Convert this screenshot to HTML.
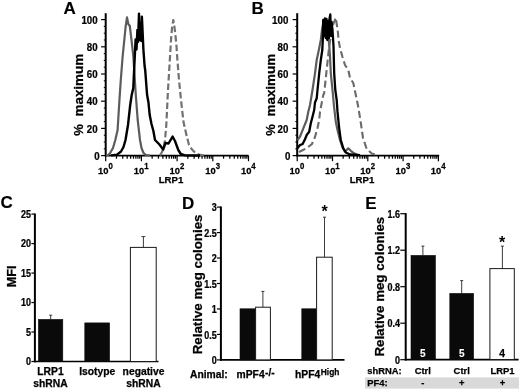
<!DOCTYPE html>
<html><head><meta charset="utf-8"><title>Figure</title>
<style>
html,body{margin:0;padding:0;background:#fff;}
body{width:520px;height:390px;overflow:hidden;}
svg{display:block;filter:blur(0.4px);}
text{font-family:"Liberation Sans",sans-serif;font-weight:bold;fill:#000;stroke:#000;stroke-width:0.25px;}
.pl{font-size:17px;stroke-width:0.15px;}
.tk{font-size:10.8px;}
.tc{font-size:10px;}
.td{font-size:10px;}
.te{font-size:10px;}
.xc{font-size:10.3px;}
.xe{font-size:9.4px;}
.xl{font-size:9px;}
.xt{font-size:9.9px;}
.sp{font-size:8.2px;}
.sup{font-size:8px;}
.yl{font-size:13px;}
.yl2{font-size:12.7px;}
.ax{stroke:#000;stroke-width:1.7;fill:none;}
.ay{stroke:#000;stroke-width:2;fill:none;}
.t{stroke:#000;stroke-width:1.2;fill:none;}
.tm{stroke:#000;stroke-width:1;fill:none;}
.eb{stroke:#1a1a1a;stroke-width:0.85;fill:none;}
.wb{fill:#fff;stroke:#1a1a1a;stroke-width:1;}
.bb{fill:#0a0a0a;stroke:#0a0a0a;stroke-width:0.6;}
</style></head><body>
<svg width="520" height="390" viewBox="0 0 520 390">
<rect x="0" y="0" width="520" height="390" fill="#fff"/>

<text class="pl" x="63.6" y="13.8">A</text>
<line class="ay" x1="105.7" y1="13.2" x2="105.7" y2="156.4"/>
<line class="ax" x1="104.9" y1="155.6" x2="248.5" y2="155.6"/>
<line class="t" x1="101.10000000000001" y1="155.60" x2="105.7" y2="155.60"/>
<text class="tk" transform="translate(99.6,160.00) scale(0.9,1)" text-anchor="end">0</text>
<line class="tm" x1="103.8" y1="148.80" x2="105.7" y2="148.80"/>
<line class="tm" x1="103.8" y1="142.00" x2="105.7" y2="142.00"/>
<line class="tm" x1="103.8" y1="135.20" x2="105.7" y2="135.20"/>
<line class="t" x1="101.10000000000001" y1="128.40" x2="105.7" y2="128.40"/>
<text class="tk" transform="translate(97.6,132.50) scale(0.9,1)" text-anchor="end">20</text>
<line class="tm" x1="103.8" y1="121.60" x2="105.7" y2="121.60"/>
<line class="tm" x1="103.8" y1="114.80" x2="105.7" y2="114.80"/>
<line class="tm" x1="103.8" y1="108.00" x2="105.7" y2="108.00"/>
<line class="t" x1="101.10000000000001" y1="101.20" x2="105.7" y2="101.20"/>
<text class="tk" transform="translate(97.6,105.30) scale(0.9,1)" text-anchor="end">40</text>
<line class="tm" x1="103.8" y1="94.40" x2="105.7" y2="94.40"/>
<line class="tm" x1="103.8" y1="87.60" x2="105.7" y2="87.60"/>
<line class="tm" x1="103.8" y1="80.80" x2="105.7" y2="80.80"/>
<line class="t" x1="101.10000000000001" y1="74.00" x2="105.7" y2="74.00"/>
<text class="tk" transform="translate(97.6,78.10) scale(0.9,1)" text-anchor="end">60</text>
<line class="tm" x1="103.8" y1="67.20" x2="105.7" y2="67.20"/>
<line class="tm" x1="103.8" y1="60.40" x2="105.7" y2="60.40"/>
<line class="tm" x1="103.8" y1="53.60" x2="105.7" y2="53.60"/>
<line class="t" x1="101.10000000000001" y1="46.80" x2="105.7" y2="46.80"/>
<text class="tk" transform="translate(97.6,50.90) scale(0.9,1)" text-anchor="end">80</text>
<line class="tm" x1="103.8" y1="40.00" x2="105.7" y2="40.00"/>
<line class="tm" x1="103.8" y1="33.20" x2="105.7" y2="33.20"/>
<line class="tm" x1="103.8" y1="26.40" x2="105.7" y2="26.40"/>
<line class="t" x1="101.10000000000001" y1="19.60" x2="105.7" y2="19.60"/>
<text class="tk" transform="translate(97.6,23.70) scale(0.9,1)" text-anchor="end">100</text>
<line class="t" x1="105.70" y1="155.6" x2="105.70" y2="161.2"/>
<text class="xt" transform="translate(105.50,173.60) scale(0.95,1)" text-anchor="middle">10<tspan class="sp" dy="-4.6">0</tspan></text>
<line class="tm" style="stroke-width:1.25" x1="116.45" y1="155.6" x2="116.45" y2="158.7"/>
<line class="tm" style="stroke-width:1.25" x1="122.73" y1="155.6" x2="122.73" y2="158.7"/>
<line class="tm" style="stroke-width:1.25" x1="127.19" y1="155.6" x2="127.19" y2="158.7"/>
<line class="tm" style="stroke-width:1.25" x1="130.65" y1="155.6" x2="130.65" y2="158.7"/>
<line class="tm" style="stroke-width:1.25" x1="133.48" y1="155.6" x2="133.48" y2="158.7"/>
<line class="tm" style="stroke-width:1.25" x1="135.87" y1="155.6" x2="135.87" y2="158.7"/>
<line class="tm" style="stroke-width:1.25" x1="137.94" y1="155.6" x2="137.94" y2="158.7"/>
<line class="tm" style="stroke-width:1.25" x1="139.77" y1="155.6" x2="139.77" y2="158.7"/>
<line class="t" x1="141.40" y1="155.6" x2="141.40" y2="161.2"/>
<text class="xt" transform="translate(141.20,173.60) scale(0.95,1)" text-anchor="middle">10<tspan class="sp" dy="-4.6">1</tspan></text>
<line class="tm" style="stroke-width:1.25" x1="152.15" y1="155.6" x2="152.15" y2="158.7"/>
<line class="tm" style="stroke-width:1.25" x1="158.43" y1="155.6" x2="158.43" y2="158.7"/>
<line class="tm" style="stroke-width:1.25" x1="162.89" y1="155.6" x2="162.89" y2="158.7"/>
<line class="tm" style="stroke-width:1.25" x1="166.35" y1="155.6" x2="166.35" y2="158.7"/>
<line class="tm" style="stroke-width:1.25" x1="169.18" y1="155.6" x2="169.18" y2="158.7"/>
<line class="tm" style="stroke-width:1.25" x1="171.57" y1="155.6" x2="171.57" y2="158.7"/>
<line class="tm" style="stroke-width:1.25" x1="173.64" y1="155.6" x2="173.64" y2="158.7"/>
<line class="tm" style="stroke-width:1.25" x1="175.47" y1="155.6" x2="175.47" y2="158.7"/>
<line class="t" x1="177.10" y1="155.6" x2="177.10" y2="161.2"/>
<text class="xt" transform="translate(176.90,173.60) scale(0.95,1)" text-anchor="middle">10<tspan class="sp" dy="-4.6">2</tspan></text>
<line class="tm" style="stroke-width:1.25" x1="187.85" y1="155.6" x2="187.85" y2="158.7"/>
<line class="tm" style="stroke-width:1.25" x1="194.13" y1="155.6" x2="194.13" y2="158.7"/>
<line class="tm" style="stroke-width:1.25" x1="198.59" y1="155.6" x2="198.59" y2="158.7"/>
<line class="tm" style="stroke-width:1.25" x1="202.05" y1="155.6" x2="202.05" y2="158.7"/>
<line class="tm" style="stroke-width:1.25" x1="204.88" y1="155.6" x2="204.88" y2="158.7"/>
<line class="tm" style="stroke-width:1.25" x1="207.27" y1="155.6" x2="207.27" y2="158.7"/>
<line class="tm" style="stroke-width:1.25" x1="209.34" y1="155.6" x2="209.34" y2="158.7"/>
<line class="tm" style="stroke-width:1.25" x1="211.17" y1="155.6" x2="211.17" y2="158.7"/>
<line class="t" x1="212.80" y1="155.6" x2="212.80" y2="161.2"/>
<text class="xt" transform="translate(212.60,173.60) scale(0.95,1)" text-anchor="middle">10<tspan class="sp" dy="-4.6">3</tspan></text>
<line class="tm" style="stroke-width:1.25" x1="223.55" y1="155.6" x2="223.55" y2="158.7"/>
<line class="tm" style="stroke-width:1.25" x1="229.83" y1="155.6" x2="229.83" y2="158.7"/>
<line class="tm" style="stroke-width:1.25" x1="234.29" y1="155.6" x2="234.29" y2="158.7"/>
<line class="tm" style="stroke-width:1.25" x1="237.75" y1="155.6" x2="237.75" y2="158.7"/>
<line class="tm" style="stroke-width:1.25" x1="240.58" y1="155.6" x2="240.58" y2="158.7"/>
<line class="tm" style="stroke-width:1.25" x1="242.97" y1="155.6" x2="242.97" y2="158.7"/>
<line class="tm" style="stroke-width:1.25" x1="245.04" y1="155.6" x2="245.04" y2="158.7"/>
<line class="tm" style="stroke-width:1.25" x1="246.87" y1="155.6" x2="246.87" y2="158.7"/>
<line class="t" x1="248.50" y1="155.6" x2="248.50" y2="161.2"/>
<text class="xt" transform="translate(248.30,173.60) scale(0.95,1)" text-anchor="middle">10<tspan class="sp" dy="-4.6">4</tspan></text>
<text class="xl" x="171.0" y="183.4" text-anchor="middle" style="font-size:9.7px" textLength="24.6" lengthAdjust="spacingAndGlyphs">LRP1</text>
<text class="yl" transform="translate(83.3,135.8) rotate(-90)">%</text>
<text class="yl" transform="translate(83.3,116.5) rotate(-90)" textLength="62.6" lengthAdjust="spacingAndGlyphs">maximum</text>
<path d="M106,155.4 L108,155 L110,153.3 L113,148 L115.3,140 L117.6,130 L119.5,99 L120.8,80 L122.6,57 L124.5,38 L125.6,27 L127,17.4 L128.3,24 L129.8,26 L131.5,40 L133.3,56 L135.8,95 L137.7,120 L140,140 L141.5,148 L143.5,153 L146,155.2 L150,155.5" fill="none" stroke="#5c5c5c" stroke-width="2.2" stroke-linejoin="round"/>
<path d="M160,155.4 L162,152 L163.5,148 L165,140 L166.3,125 L168,90 L170,57 L171,40 L172,28 L173.3,20 L174.2,25 L175.3,34 L176.5,46 L177.2,57 L179,80 L181,100 L183.5,122 L186,133 L189,145 L192,149.5 L195.5,153 L199,154.6 L204,155.3" fill="none" stroke="#727272" stroke-width="2.2" stroke-dasharray="6.5,3" stroke-linejoin="round"/>
<path d="M111,155.4 L117,154.6 L121,151.5 L123.5,147 L125.5,140 L128,125 L130.2,105 L131.7,95 L133.3,88 L134.6,60 L135.6,39.4 L136.5,49.5 L137.4,30 L138,42 L139,13.7 L139.7,40 L140.5,24 L141.2,41 L141.9,16.8 L142.8,36 L143.4,49.5 L144.6,66 L145.2,70 L147.1,95 L148.4,102 L149.7,115 L151.5,124 L153.4,131 L155,140 L157.5,142.5 L159.4,144.5 L163.2,149.5 L165.5,143 L168.5,143.5 L172.6,136.6 L175,141 L178.3,150 L180.8,154 L185,155.4 L200,155.5" fill="none" stroke="#000" stroke-width="2.4" stroke-linejoin="round"/>
<text class="pl" x="251.5" y="13.7">B</text>
<line class="ay" x1="297.2" y1="13.2" x2="297.2" y2="156.4"/>
<line class="ax" x1="296.4" y1="155.6" x2="439.2" y2="155.6"/>
<line class="t" x1="292.59999999999997" y1="155.60" x2="297.2" y2="155.60"/>
<text class="tk" transform="translate(290.3,160.00) scale(0.9,1)" text-anchor="end">0</text>
<line class="tm" x1="295.3" y1="148.80" x2="297.2" y2="148.80"/>
<line class="tm" x1="295.3" y1="142.00" x2="297.2" y2="142.00"/>
<line class="tm" x1="295.3" y1="135.20" x2="297.2" y2="135.20"/>
<line class="t" x1="292.59999999999997" y1="128.40" x2="297.2" y2="128.40"/>
<text class="tk" transform="translate(288.3,132.50) scale(0.9,1)" text-anchor="end">20</text>
<line class="tm" x1="295.3" y1="121.60" x2="297.2" y2="121.60"/>
<line class="tm" x1="295.3" y1="114.80" x2="297.2" y2="114.80"/>
<line class="tm" x1="295.3" y1="108.00" x2="297.2" y2="108.00"/>
<line class="t" x1="292.59999999999997" y1="101.20" x2="297.2" y2="101.20"/>
<text class="tk" transform="translate(288.3,105.30) scale(0.9,1)" text-anchor="end">40</text>
<line class="tm" x1="295.3" y1="94.40" x2="297.2" y2="94.40"/>
<line class="tm" x1="295.3" y1="87.60" x2="297.2" y2="87.60"/>
<line class="tm" x1="295.3" y1="80.80" x2="297.2" y2="80.80"/>
<line class="t" x1="292.59999999999997" y1="74.00" x2="297.2" y2="74.00"/>
<text class="tk" transform="translate(288.3,78.10) scale(0.9,1)" text-anchor="end">60</text>
<line class="tm" x1="295.3" y1="67.20" x2="297.2" y2="67.20"/>
<line class="tm" x1="295.3" y1="60.40" x2="297.2" y2="60.40"/>
<line class="tm" x1="295.3" y1="53.60" x2="297.2" y2="53.60"/>
<line class="t" x1="292.59999999999997" y1="46.80" x2="297.2" y2="46.80"/>
<text class="tk" transform="translate(288.3,50.90) scale(0.9,1)" text-anchor="end">80</text>
<line class="tm" x1="295.3" y1="40.00" x2="297.2" y2="40.00"/>
<line class="tm" x1="295.3" y1="33.20" x2="297.2" y2="33.20"/>
<line class="tm" x1="295.3" y1="26.40" x2="297.2" y2="26.40"/>
<line class="t" x1="292.59999999999997" y1="19.60" x2="297.2" y2="19.60"/>
<text class="tk" transform="translate(288.3,23.70) scale(0.9,1)" text-anchor="end">100</text>
<line class="t" x1="297.20" y1="155.6" x2="297.20" y2="161.2"/>
<text class="xt" transform="translate(297.00,173.60) scale(0.95,1)" text-anchor="middle">10<tspan class="sp" dy="-4.6">0</tspan></text>
<line class="tm" style="stroke-width:1.25" x1="307.83" y1="155.6" x2="307.83" y2="158.7"/>
<line class="tm" style="stroke-width:1.25" x1="314.04" y1="155.6" x2="314.04" y2="158.7"/>
<line class="tm" style="stroke-width:1.25" x1="318.45" y1="155.6" x2="318.45" y2="158.7"/>
<line class="tm" style="stroke-width:1.25" x1="321.87" y1="155.6" x2="321.87" y2="158.7"/>
<line class="tm" style="stroke-width:1.25" x1="324.67" y1="155.6" x2="324.67" y2="158.7"/>
<line class="tm" style="stroke-width:1.25" x1="327.03" y1="155.6" x2="327.03" y2="158.7"/>
<line class="tm" style="stroke-width:1.25" x1="329.08" y1="155.6" x2="329.08" y2="158.7"/>
<line class="tm" style="stroke-width:1.25" x1="330.88" y1="155.6" x2="330.88" y2="158.7"/>
<line class="t" x1="332.50" y1="155.6" x2="332.50" y2="161.2"/>
<text class="xt" transform="translate(332.30,173.60) scale(0.95,1)" text-anchor="middle">10<tspan class="sp" dy="-4.6">1</tspan></text>
<line class="tm" style="stroke-width:1.25" x1="343.13" y1="155.6" x2="343.13" y2="158.7"/>
<line class="tm" style="stroke-width:1.25" x1="349.34" y1="155.6" x2="349.34" y2="158.7"/>
<line class="tm" style="stroke-width:1.25" x1="353.75" y1="155.6" x2="353.75" y2="158.7"/>
<line class="tm" style="stroke-width:1.25" x1="357.17" y1="155.6" x2="357.17" y2="158.7"/>
<line class="tm" style="stroke-width:1.25" x1="359.97" y1="155.6" x2="359.97" y2="158.7"/>
<line class="tm" style="stroke-width:1.25" x1="362.33" y1="155.6" x2="362.33" y2="158.7"/>
<line class="tm" style="stroke-width:1.25" x1="364.38" y1="155.6" x2="364.38" y2="158.7"/>
<line class="tm" style="stroke-width:1.25" x1="366.18" y1="155.6" x2="366.18" y2="158.7"/>
<line class="t" x1="367.80" y1="155.6" x2="367.80" y2="161.2"/>
<text class="xt" transform="translate(367.60,173.60) scale(0.95,1)" text-anchor="middle">10<tspan class="sp" dy="-4.6">2</tspan></text>
<line class="tm" style="stroke-width:1.25" x1="378.43" y1="155.6" x2="378.43" y2="158.7"/>
<line class="tm" style="stroke-width:1.25" x1="384.64" y1="155.6" x2="384.64" y2="158.7"/>
<line class="tm" style="stroke-width:1.25" x1="389.05" y1="155.6" x2="389.05" y2="158.7"/>
<line class="tm" style="stroke-width:1.25" x1="392.47" y1="155.6" x2="392.47" y2="158.7"/>
<line class="tm" style="stroke-width:1.25" x1="395.27" y1="155.6" x2="395.27" y2="158.7"/>
<line class="tm" style="stroke-width:1.25" x1="397.63" y1="155.6" x2="397.63" y2="158.7"/>
<line class="tm" style="stroke-width:1.25" x1="399.68" y1="155.6" x2="399.68" y2="158.7"/>
<line class="tm" style="stroke-width:1.25" x1="401.48" y1="155.6" x2="401.48" y2="158.7"/>
<line class="t" x1="403.10" y1="155.6" x2="403.10" y2="161.2"/>
<text class="xt" transform="translate(402.90,173.60) scale(0.95,1)" text-anchor="middle">10<tspan class="sp" dy="-4.6">3</tspan></text>
<line class="tm" style="stroke-width:1.25" x1="413.73" y1="155.6" x2="413.73" y2="158.7"/>
<line class="tm" style="stroke-width:1.25" x1="419.94" y1="155.6" x2="419.94" y2="158.7"/>
<line class="tm" style="stroke-width:1.25" x1="424.35" y1="155.6" x2="424.35" y2="158.7"/>
<line class="tm" style="stroke-width:1.25" x1="427.77" y1="155.6" x2="427.77" y2="158.7"/>
<line class="tm" style="stroke-width:1.25" x1="430.57" y1="155.6" x2="430.57" y2="158.7"/>
<line class="tm" style="stroke-width:1.25" x1="432.93" y1="155.6" x2="432.93" y2="158.7"/>
<line class="tm" style="stroke-width:1.25" x1="434.98" y1="155.6" x2="434.98" y2="158.7"/>
<line class="tm" style="stroke-width:1.25" x1="436.78" y1="155.6" x2="436.78" y2="158.7"/>
<line class="t" x1="438.40" y1="155.6" x2="438.40" y2="161.2"/>
<text class="xt" transform="translate(438.20,173.60) scale(0.95,1)" text-anchor="middle">10<tspan class="sp" dy="-4.6">4</tspan></text>
<text class="xl" x="362" y="183.4" text-anchor="middle" style="font-size:9.7px" textLength="24.6" lengthAdjust="spacingAndGlyphs">LRP1</text>
<text class="yl" transform="translate(274.5,135.8) rotate(-90)">%</text>
<text class="yl" transform="translate(274.5,116.5) rotate(-90)" textLength="62.6" lengthAdjust="spacingAndGlyphs">maximum</text>
<path d="M297.5,140 L300,136.7 L303.3,128.3 L306.7,120 L308.3,111.7 L310,105 L312.5,90 L315,73.3 L316.7,60 L319.2,48.3 L320.8,40 L322,30 L323.5,22 L325,19 L326.5,24 L328,32 L329.2,45 L330,56.7 L330.8,73.3 L332.5,90 L334.2,108 L335.8,121.7 L337.5,130 L340,140 L342.5,147.5 L345,151.7 L348.3,148.3 L350.8,150.8 L354,153.3 L358,155" fill="none" stroke="#5c5c5c" stroke-width="2.2" stroke-linejoin="round"/>
<path d="M299,152 L303,150 L307,148 L312,144 L315,137 L317.5,128 L319.2,120 L320,112 L321.7,103 L323.3,95 L324.2,93 L325.8,78 L327.5,62 L329,48 L331,35 L333,25 L334.5,21 L335.8,17.7 L337,26 L338,33 L338.5,40 L340,48 L342.5,57 L345,65 L348.3,70 L350,78 L353.3,83 L355.8,95 L357.9,105 L360.4,120 L363,138 L366.7,149 L371.7,153.5 L377,155" fill="none" stroke="#6a6a6a" stroke-width="2.1" stroke-dasharray="7,3.5" stroke-linejoin="round"/>
<path d="M297.5,148.3 L300,145 L302.5,144.2 L305,139.2 L306.7,135 L309.2,131.7 L310.8,123.3 L312.5,116.7 L314.2,110 L315,102.5 L316.7,98.3 L317.5,90 L319.2,73.3 L320.8,60 L322.3,50 L322.8,40 L323.2,20 L324.1,36 L324.9,18.5 L325.7,38 L326.5,19 L327.3,40 L328.1,21 L328.9,38 L329.6,18 L330.3,14.5 L331,36 L331.7,22 L332.5,30 L333.5,46 L334.2,73.3 L335.3,90 L336.7,100 L337.5,111.7 L339.2,128.3 L340.8,140 L343.3,148.3 L345.8,152.5 L350,154.5 L360,155.2" fill="none" stroke="#000" stroke-width="2.3" stroke-linejoin="round"/>
<text class="pl" x="0.4" y="208.3">C</text>
<line class="ay" x1="34.9" y1="213.5" x2="34.9" y2="362.3"/>
<line class="ax" x1="34.1" y1="361.5" x2="158.5" y2="361.5"/>
<line class="t" x1="31.4" y1="361.50" x2="34.9" y2="361.50"/>
<text class="tc" transform="translate(31.0,365.10) scale(0.9,1)" text-anchor="end">0</text>
<line class="t" x1="31.4" y1="332.02" x2="34.9" y2="332.02"/>
<text class="tc" transform="translate(31.0,335.62) scale(0.9,1)" text-anchor="end">5</text>
<line class="t" x1="31.4" y1="302.54" x2="34.9" y2="302.54"/>
<text class="tc" transform="translate(31.0,306.14) scale(0.9,1)" text-anchor="end">10</text>
<line class="t" x1="31.4" y1="273.06" x2="34.9" y2="273.06"/>
<text class="tc" transform="translate(31.0,276.66) scale(0.9,1)" text-anchor="end">15</text>
<line class="t" x1="31.4" y1="243.58" x2="34.9" y2="243.58"/>
<text class="tc" transform="translate(31.0,247.18) scale(0.9,1)" text-anchor="end">20</text>
<line class="t" x1="31.4" y1="214.10" x2="34.9" y2="214.10"/>
<text class="tc" transform="translate(31.0,217.70) scale(0.9,1)" text-anchor="end">25</text>
<text class="yl" transform="translate(16.3,287.3) rotate(-90)" style="font-size:12.7px">MFI</text>
<rect class="bb" x="38.4" y="319.4" width="24.4" height="42.10"/>
<path class="eb" d="M50.7,319.4 V315.2 M49.2,315.2 H52.2"/>
<rect class="bb" x="84.8" y="322.9" width="24.8" height="38.60"/>
<rect class="wb" x="130.4" y="247.4" width="25.8" height="114.10"/>
<path class="eb" d="M143.4,247.4 V236.6 M141.4,236.6 H145.4"/>
<text class="xc" x="50.5" y="374.9" text-anchor="middle">LRP1</text>
<text class="xc" x="50.5" y="386.9" text-anchor="middle">shRNA</text>
<text class="xc" x="97.2" y="374.9" text-anchor="middle">Isotype</text>
<text class="xc" x="143.5" y="374.9" text-anchor="middle">negative</text>
<text class="xc" x="143.5" y="386.9" text-anchor="middle">shRNA</text>
<text class="pl" x="182.0" y="208.6">D</text>
<line class="ay" x1="220.9" y1="206.5" x2="220.9" y2="360.7"/>
<line class="ax" x1="220.1" y1="359.9" x2="344.5" y2="359.9"/>
<line class="t" x1="216.9" y1="359.90" x2="220.9" y2="359.90"/>
<text class="td" transform="translate(216.7,364.10) scale(0.9,1)" text-anchor="end">0</text>
<line class="t" x1="216.9" y1="334.43" x2="220.9" y2="334.43"/>
<text class="td" transform="translate(216.7,338.63) scale(0.9,1)" text-anchor="end">0.5</text>
<line class="t" x1="216.9" y1="308.97" x2="220.9" y2="308.97"/>
<text class="td" transform="translate(216.7,313.17) scale(0.9,1)" text-anchor="end">1</text>
<line class="t" x1="216.9" y1="283.50" x2="220.9" y2="283.50"/>
<text class="td" transform="translate(216.7,287.70) scale(0.9,1)" text-anchor="end">1.5</text>
<line class="t" x1="216.9" y1="258.03" x2="220.9" y2="258.03"/>
<text class="td" transform="translate(216.7,262.23) scale(0.9,1)" text-anchor="end">2</text>
<line class="t" x1="216.9" y1="232.57" x2="220.9" y2="232.57"/>
<text class="td" transform="translate(216.7,236.77) scale(0.9,1)" text-anchor="end">2.5</text>
<line class="t" x1="216.9" y1="207.10" x2="220.9" y2="207.10"/>
<text class="td" transform="translate(216.7,211.30) scale(0.9,1)" text-anchor="end">3</text>
<text class="yl2" transform="translate(201.7,354.3) rotate(-90)" textLength="139.8" lengthAdjust="spacingAndGlyphs">Relative meg colonies</text>
<rect class="bb" x="240" y="308.8" width="15.4" height="51.10"/>
<rect class="wb" x="255.6" y="307.2" width="14.8" height="52.70"/>
<path class="eb" d="M262.9,307.2 V291.4 M261.4,291.4 H264.4"/>
<rect class="bb" x="301.8" y="308.8" width="14.8" height="51.10"/>
<rect class="wb" x="316.6" y="257.2" width="15.6" height="102.70"/>
<path class="eb" d="M324.5,257.2 V217.2 M323,217.2 H326"/>
<text class="yl" x="324.5" y="216.6" text-anchor="middle" style="font-size:16px;stroke-width:0">*</text>
<text class="xc" x="190" y="377.8">Animal:</text>
<text class="xc" x="236.6" y="377.8">mPF4<tspan dx="0.4" dy="-2.3" style="font-size:10px">-/-</tspan></text>
<text class="xc" x="295" y="377.8">hPF4<tspan dx="0.6" dy="-2.9" style="font-size:8.4px">High</tspan></text>
<text class="pl" x="365.2" y="208.8">E</text>
<line class="ay" x1="405.7" y1="213.1" x2="405.7" y2="360.5"/>
<line class="ax" x1="404.9" y1="359.7" x2="518.6" y2="359.7"/>
<line class="t" x1="400.3" y1="359.70" x2="405.7" y2="359.70"/>
<text class="te" transform="translate(399.9,363.80) scale(0.9,1)" text-anchor="end">0</text>
<line class="t" x1="400.3" y1="323.20" x2="405.7" y2="323.20"/>
<text class="te" transform="translate(399.9,327.30) scale(0.9,1)" text-anchor="end">0.4</text>
<line class="t" x1="400.3" y1="286.70" x2="405.7" y2="286.70"/>
<text class="te" transform="translate(399.9,290.80) scale(0.9,1)" text-anchor="end">0.8</text>
<line class="t" x1="400.3" y1="250.20" x2="405.7" y2="250.20"/>
<text class="te" transform="translate(399.9,254.30) scale(0.9,1)" text-anchor="end">1.2</text>
<line class="t" x1="400.3" y1="213.70" x2="405.7" y2="213.70"/>
<text class="te" transform="translate(399.9,217.80) scale(0.9,1)" text-anchor="end">1.6</text>
<text class="yl2" transform="translate(384.1,356.6) rotate(-90)" textLength="139.8" lengthAdjust="spacingAndGlyphs">Relative meg colonies</text>
<rect class="bb" x="411" y="255.4" width="24.4" height="104.30"/>
<path class="eb" d="M422.9,255.4 V246.1 M421.4,246.1 H424.4"/>
<rect class="bb" x="449.8" y="293.4" width="23.8" height="66.30"/>
<path class="eb" d="M461.7,293.4 V280.6 M460.2,280.6 H463.2"/>
<rect class="wb" x="489.9" y="268.6" width="24.4" height="90.90"/>
<path class="eb" d="M502.4,268.8 V246.1 M500.9,246.1 H503.9"/>
<text class="yl" x="502.2" y="248.1" text-anchor="middle" style="font-size:16px;stroke-width:0">*</text>
<text class="tk" x="422.8" y="356.9" text-anchor="middle" style="fill:#fff;stroke:#fff;stroke-width:0.1px;font-size:10px">5</text>
<text class="tk" x="461.7" y="356.9" text-anchor="middle" style="fill:#fff;stroke:#fff;stroke-width:0.1px;font-size:10px">5</text>
<text class="tk" x="502.2" y="357.2" text-anchor="middle" style="font-size:10.3px">4</text>
<rect x="365" y="377.4" width="154" height="11.2" fill="#d9d9d9"/>
<text class="xe" x="367.2" y="373.8">shRNA:</text>
<text class="xe" x="367.2" y="386.1">PF4:</text>
<text class="xe" x="422.8" y="373.8" text-anchor="middle">Ctrl</text>
<text class="xe" x="461.7" y="373.8" text-anchor="middle">Ctrl</text>
<text class="xe" x="502.4" y="373.8" text-anchor="middle">LRP1</text>
<text class="xe" x="422.8" y="385.9" text-anchor="middle">-</text>
<text class="xe" x="461.7" y="386.1" text-anchor="middle">+</text>
<text class="xe" x="502.4" y="386.1" text-anchor="middle">+</text>
</svg></body></html>
